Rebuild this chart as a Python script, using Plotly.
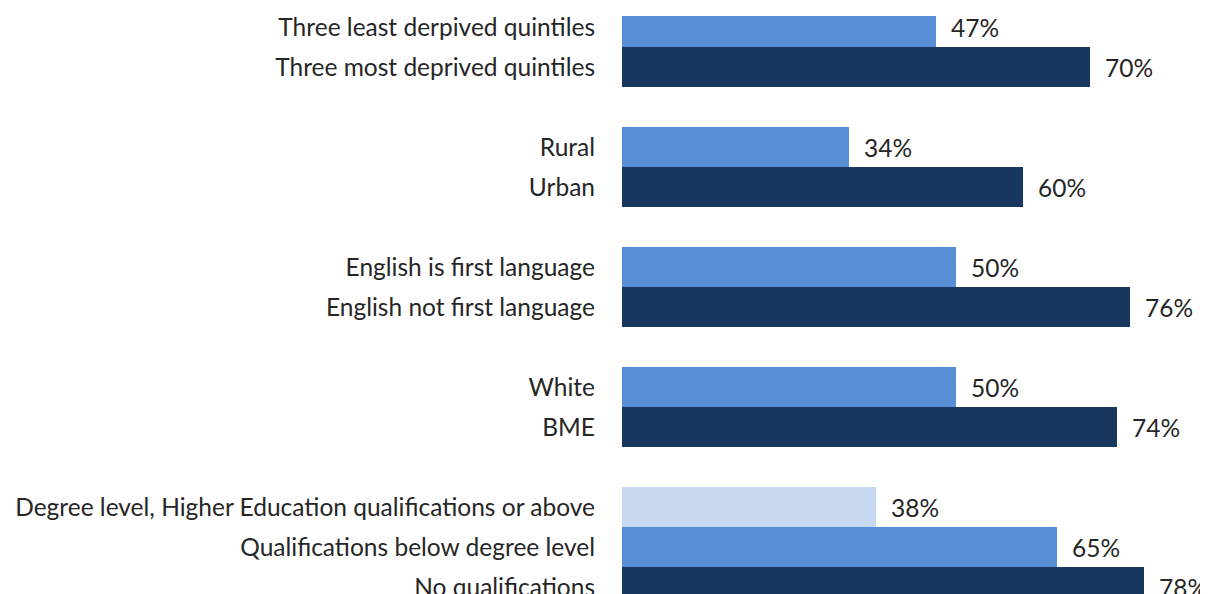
import plotly.graph_objects as go

groups = [
    ["Three least derpived quintiles", "Three most deprived quintiles"],
    ["Rural", "Urban"],
    ["English is first language", "English not first language"],
    ["White", "BME"],
    ["Degree level, Higher Education qualifications or above",
     "Qualifications below degree level", "No qualifications"],
]
values = [
    [47, 70],
    [34, 60],
    [50, 76],
    [50, 74],
    [38, 65, 78],
]
two_colors = ["#558ED5", "#17375E"]
three_colors = ["#C6D9F1", "#558ED5", "#17375E"]

labels, vals, pos, cols = [], [], [], []
p = 0
for g, v in zip(groups, values):
    palette = three_colors if len(g) == 3 else two_colors
    for lab, val, c in zip(g, v, palette):
        labels.append(lab)
        vals.append(val)
        pos.append(p)
        cols.append(c)
        p += 1
    p += 1  # blank spacer row between groups

FONT = "Lato"
FS = 24.5
fig = go.Figure()
fig.add_trace(go.Bar(
    x=vals, y=pos, orientation="h", width=1.0,
    marker=dict(color=cols, line=dict(width=0)),
    hoverinfo="skip",
))
for v, y in zip(vals, pos):
    fig.add_annotation(x=v, y=y, text=f"{v}%", showarrow=False,
                       xanchor="left", xshift=13,
                       font=dict(family=FONT, size=FS, color="#262626"))

fig.update_layout(
    width=1208, height=594,
    margin=dict(l=614, r=0, t=8, b=0),
    plot_bgcolor="white", paper_bgcolor="white",
    showlegend=False,
    bargap=0,
)
fig.update_xaxes(range=[0, 88.84], visible=False)
fig.update_yaxes(range=[14.375, -0.275], tickvals=pos, ticktext=labels,
                 showgrid=False, zeroline=False, showline=False,
                 ticks="", ticklabelstandoff=26,
                 tickfont=dict(family=FONT, size=FS, color="#262626"))
fig.write_html("out.html")
